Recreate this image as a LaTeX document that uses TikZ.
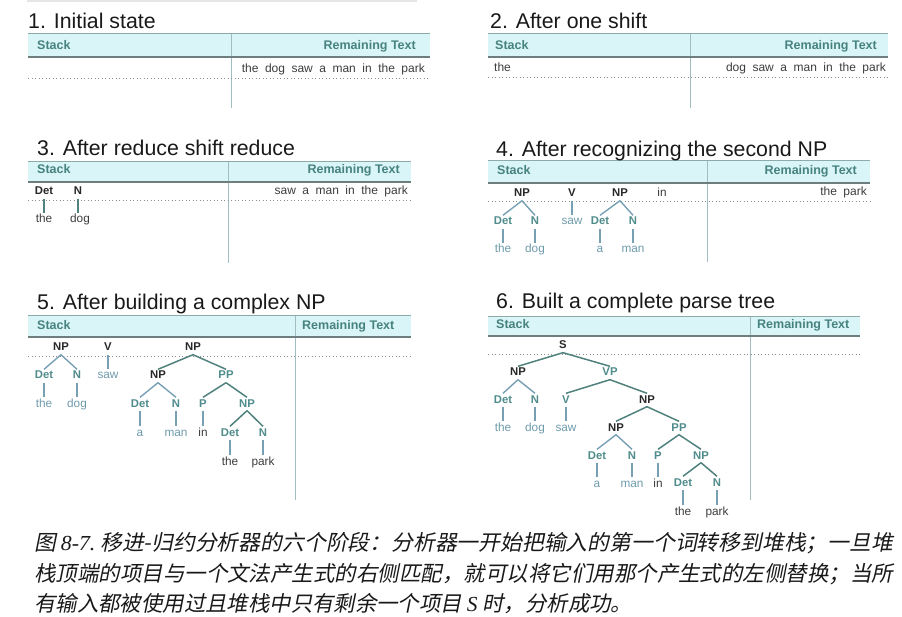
\documentclass[tikz,border=0pt]{standalone}
\usepackage{fontspec}
\usepackage{graphicx}
\setmainfont{Liberation Sans}
\newfontfamily\cjk[FakeSlant=0.2]{Noto Sans CJK SC}
\newfontfamily\capserif{Liberation Serif}
\definecolor{bandfill}{RGB}{218,245,247}
\definecolor{bandtop}{RGB}{140,170,170}
\definecolor{bandbot}{RGB}{110,125,125}
\definecolor{divcol}{RGB}{160,190,192}
\definecolor{hdrcol}{RGB}{70,130,128}
\definecolor{titlecol}{RGB}{25,25,25}
\definecolor{dotcol}{RGB}{140,140,140}
\definecolor{catcol}{RGB}{80,140,140}
\definecolor{topcol}{RGB}{40,40,40}
\definecolor{wlight}{RGB}{110,155,172}
\definecolor{wdark}{RGB}{60,60,60}
\definecolor{edark}{RGB}{80,130,125}
\definecolor{elight}{RGB}{120,160,180}
\newcommand\mypanel[7]{%
  \fill[bandfill] (#1,#3) rectangle (#2,#4);
  \draw[bandtop, line width=1pt] (#1,#3) -- (#2,#3);
  \draw[divcol, line width=1pt] (#5,#3) -- (#5,#7);
  \draw[bandbot, line width=1.8pt] (#1,#4) -- (#2,#4);
  \draw[dotcol, line width=1pt, dash pattern=on 1pt off 2.5pt] (#1,#6) -- (#2,#6);
}
\newcommand\widesp{\spaceskip=6.5pt plus 1pt\relax}
\begin{document}
\begin{tikzpicture}[x=1pt,y=-1pt,
  ptitle/.style={font=\fontsize{21.3}{21.3}\selectfont, text=titlecol, anchor=base west, inner sep=0},
  hdr/.style={font=\bfseries\fontsize{12.5}{12.5}\selectfont, text=hdrcol, inner sep=0},
  rowtxt/.style={font=\fontsize{12}{12}\selectfont, text=wdark, inner sep=0},
  lab/.style={inner sep=1.5pt, text height=8pt, text depth=2pt},
  topl/.style={lab, font=\bfseries\fontsize{11.3}{11.3}\selectfont, text=topcol},
  cat/.style={lab, font=\bfseries\fontsize{11.3}{11.3}\selectfont, text=catcol},
  wl/.style={lab, font=\fontsize{11.8}{11.8}\selectfont, text=wlight},
  wd/.style={lab, font=\fontsize{11.8}{11.8}\selectfont, text=wdark},
  edk/.style={draw=edark, line width=1.5pt},
  elt/.style={draw=elight, line width=1.4pt},
  ewd/.style={draw=elight, line width=1.1pt},
]
\useasboundingbox (0,0) rectangle (902,617);
\draw[gray!20, line width=2pt] (27,1) -- (417,1);

% ---------- Panel 1
\mypanel{28}{430}{34}{57}{231}{79}{108}
\node[ptitle] (t1) at (28,29) {1. Initial state};
\node[hdr, anchor=base west] (s1) at (37,50) {Stack};
\node[hdr, anchor=base east] (r1) at (416,50) {Remaining Text};
\node[rowtxt, anchor=base east] (x1) at (425,73) {\widesp the dog saw a man in the park};

% ---------- Panel 2
\mypanel{488}{888}{34}{57}{690}{78}{108}
\node[ptitle] (t2) at (490,29) {2. After one shift};
\node[hdr, anchor=base west] (s2) at (495,50) {Stack};
\node[hdr, anchor=base east] (r2) at (877,50) {Remaining Text};
\node[rowtxt, anchor=base west] (y2) at (494,72) {the};
\node[rowtxt, anchor=base east] (x2) at (886,72) {\widesp dog saw a man in the park};

% ---------- Panel 3
\mypanel{28}{411}{162}{182}{228}{201}{263}
\node[ptitle] (t3) at (37,156) {3. After reduce shift reduce};
\node[hdr, anchor=base west] (s3) at (37,174) {Stack};
\node[hdr, anchor=base east] (r3) at (400,174) {Remaining Text};
\node[rowtxt, anchor=base east] (x3) at (408,195) {\widesp saw a man in the park};
\node[topl] (p3det) at (44,192) {Det};
\node[topl] (p3n) at (78,192) {N};
\node[wd] (p3the) at (44,220) {the};
\node[wd] (p3dog) at (80,220) {dog};
\draw[edk, line width=1.3pt] (p3det) -- (p3the);
\draw[edk, line width=1.3pt] (p3n) -- (p3n |- p3dog.north);

% ---------- Panel 4
\mypanel{488}{870}{161}{183}{707}{202}{262}
\node[ptitle] (t4) at (496,157) {4. After recognizing the second NP};
\node[hdr, anchor=base west] (s4) at (497,175) {Stack};
\node[hdr, anchor=base east] (r4) at (857,175) {Remaining Text};
\node[rowtxt, anchor=base east] (x4) at (867,196) {\widesp the park};
\node[topl] (p4np1) at (522,194) {NP};
\node[topl] (p4v) at (572,194) {V};
\node[topl] (p4np2) at (620,194) {NP};
\node[wd] (p4in) at (662,194) {in};
\node[cat] (p4det1) at (503,222) {Det};
\node[cat] (p4n1) at (535,222) {N};
\node[wl] (p4saw) at (572,222) {saw};
\node[cat] (p4det2) at (600,222) {Det};
\node[cat] (p4n2) at (633,222) {N};
\node[wl] (p4the) at (503,250) {the};
\node[wl] (p4dog) at (535,250) {dog};
\node[wl] (p4a) at (600,250) {a};
\node[wl] (p4man) at (633,250) {man};
\draw[elt] (p4np1.south) -- (p4det1.north);
\draw[elt] (p4np1.south) -- (p4n1.north);
\draw[elt] (p4np2.south) -- (p4det2.north);
\draw[elt] (p4np2.south) -- (p4n2.north);
\draw[ewd] (p4v) -- (p4saw);
\draw[ewd] (p4det1) -- (p4the);
\draw[ewd] (p4n1) -- (p4dog);
\draw[ewd] (p4det2) -- (p4a);
\draw[ewd] (p4n2) -- (p4man);

% ---------- Panel 5
\mypanel{28}{411}{316}{337}{295}{357}{500}
\node[ptitle] (t5) at (37,310) {5. After building a complex NP};
\node[hdr, anchor=base west] (s5) at (37,330) {Stack};
\node[hdr, anchor=base west] (r5) at (302,330) {Remaining Text};
\node[topl] (p5np1) at (61,348) {NP};
\node[topl] (p5v) at (108,348) {V};
\node[topl] (p5np2) at (193,348) {NP};
\node[cat] (p5det1) at (44,376) {Det};
\node[cat] (p5n1) at (77,376) {N};
\node[wl] (p5saw) at (108,376) {saw};
\node[topl] (p5np3) at (158,376) {NP};
\node[cat] (p5pp) at (226,376) {PP};
\node[wl] (p5the1) at (44,404) {the};
\node[wl] (p5dog) at (77,404) {dog};
\node[cat] (p5det2) at (140,404) {Det};
\node[cat] (p5n2) at (176,404) {N};
\node[cat] (p5p) at (203,404) {P};
\node[cat] (p5np4) at (247,404) {NP};
\node[wl] (p5a) at (140,433) {a};
\node[wl] (p5man) at (176,433) {man};
\node[wd] (p5in) at (203,433) {in};
\node[cat] (p5det3) at (230,433) {Det};
\node[cat] (p5n3) at (263,433) {N};
\node[wd] (p5the2) at (230,462) {the};
\node[wd] (p5park) at (263,462) {park};
\draw[elt] (p5np1.south) -- (p5det1.north);
\draw[elt] (p5np1.south) -- (p5n1.north);
\draw[ewd] (p5det1) -- (p5the1);
\draw[ewd] (p5n1) -- (p5dog);
\draw[ewd] (p5v) -- (p5saw);
\draw[edk] (p5np2.south) -- (p5np3.north);
\draw[edk] (p5np2.south) -- (p5pp.north);
\draw[elt] (p5np3.south) -- (p5det2.north);
\draw[elt] (p5np3.south) -- (p5n2.north);
\draw[ewd] (p5det2) -- (p5a);
\draw[ewd] (p5n2) -- (p5man);
\draw[edk] (p5pp.south) -- (p5p.north);
\draw[edk] (p5pp.south) -- (p5np4.north);
\draw[ewd] (p5p) -- (p5in);
\draw[edk] (p5np4.south) -- (p5det3.north);
\draw[edk] (p5np4.south) -- (p5n3.north);
\draw[ewd] (p5det3) -- (p5the2);
\draw[ewd] (p5n3) -- (p5park);

% ---------- Panel 6
\mypanel{488}{860}{317}{336}{750}{355}{500}
\node[ptitle] (t6) at (496,309) {6. Built a complete parse tree};
\node[hdr, anchor=base west] (s6) at (496,329) {Stack};
\node[hdr, anchor=base west] (r6) at (757,329) {Remaining Text};
\node[topl] (p6s) at (563,346) {S};
\node[topl] (p6np1) at (518,373) {NP};
\node[cat] (p6vp) at (610,373) {VP};
\node[cat] (p6det1) at (503,400) {Det};
\node[cat] (p6n1) at (535,400) {N};
\node[cat] (p6v) at (566,400) {V};
\node[topl] (p6np2) at (647,400) {NP};
\node[wl] (p6the1) at (503,428) {the};
\node[wl] (p6dog) at (535,428) {dog};
\node[wl] (p6saw) at (566,428) {saw};
\node[topl] (p6np3) at (616,428) {NP};
\node[cat] (p6pp) at (679,428) {PP};
\node[cat] (p6det2) at (597,456) {Det};
\node[cat] (p6n2) at (632,456) {N};
\node[cat] (p6p) at (658,456) {P};
\node[cat] (p6np4) at (701,456) {NP};
\node[wl] (p6a) at (597,484) {a};
\node[wl] (p6man) at (632,484) {man};
\node[wd] (p6in) at (658,484) {in};
\node[cat] (p6det3) at (683,483) {Det};
\node[cat] (p6n3) at (717,483) {N};
\node[wd] (p6the2) at (683,512) {the};
\node[wd] (p6park) at (717,512) {park};
\draw[edk] (p6s.south) -- (p6np1.north);
\draw[edk] (p6s.south) -- (p6vp.north);
\draw[elt] (p6np1.south) -- (p6det1.north);
\draw[elt] (p6np1.south) -- (p6n1.north);
\draw[ewd] (p6det1) -- (p6the1);
\draw[ewd] (p6n1) -- (p6dog);
\draw[edk] (p6vp.south) -- (p6v.north);
\draw[edk] (p6vp.south) -- (p6np2.north);
\draw[ewd] (p6v) -- (p6saw);
\draw[edk] (p6np2.south) -- (p6np3.north);
\draw[edk] (p6np2.south) -- (p6pp.north);
\draw[elt] (p6np3.south) -- (p6det2.north);
\draw[elt] (p6np3.south) -- (p6n2.north);
\draw[ewd] (p6det2) -- (p6a);
\draw[ewd] (p6n2) -- (p6man);
\draw[edk] (p6pp.south) -- (p6p.north);
\draw[edk] (p6pp.south) -- (p6np4.north);
\draw[ewd] (p6p) -- (p6in);
\draw[edk] (p6np4.south) -- (p6det3.north);
\draw[edk] (p6np4.south) -- (p6n3.north);
\draw[ewd] (p6det3) -- (p6the2);
\draw[ewd] (p6n3) -- (p6park);

% ---------- Caption
\node[anchor=base west, inner sep=0, font=\fontsize{21.4}{21.4}\selectfont, text=titlecol] (cap1) at (34,550)
  {\resizebox{859pt}{\height}{\cjk 图\ {\capserif\itshape 8-7.}\ 移进-归约分析器的六个阶段：分析器一开始把输入的第一个词转移到堆栈；一旦堆}};
\node[anchor=base west, inner sep=0, font=\fontsize{21.4}{21.4}\selectfont, text=titlecol] (cap2) at (34,581)
  {\resizebox{859pt}{\height}{\cjk 栈顶端的项目与一个文法产生式的右侧匹配，就可以将它们用那个产生式的左侧替换；当所}};
\node[anchor=base west, inner sep=0, font=\fontsize{21.4}{21.4}\selectfont, text=titlecol] (cap3) at (34,611)
  {\cjk 有输入都被使用过且堆栈中只有剩余一个项目\ {\capserif\itshape S}\ 时，分析成功。};
\end{tikzpicture}
\end{document}
